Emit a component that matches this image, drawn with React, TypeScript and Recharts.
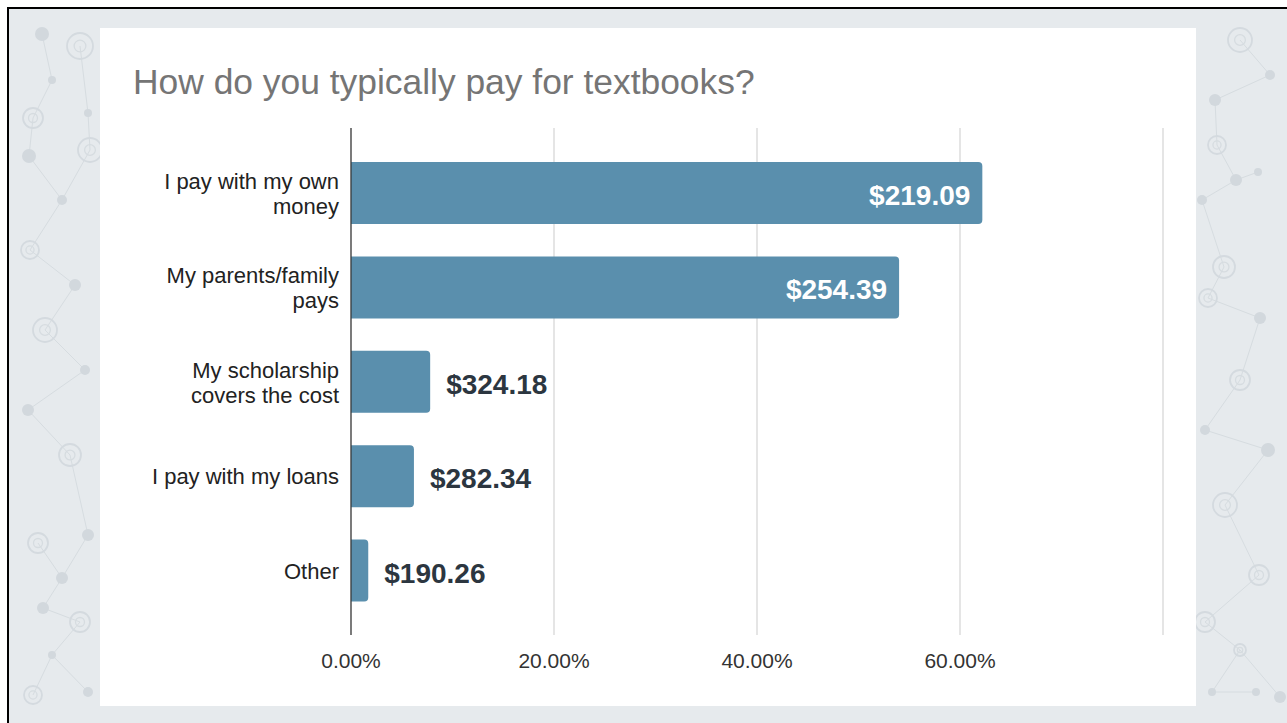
import React from 'react';
import { BarChart, Bar, XAxis, YAxis, CartesianGrid, LabelList } from 'recharts';

// Survey answers: share of respondents (%) and the average textbook spend per group
const categories = [
  'I pay with my own money',
  'My parents/family pays',
  'My scholarship covers the cost',
  'I pay with my loans',
  'Other',
];
const sharePercent = [62.2, 54.0, 7.8, 6.2, 1.7];
const costLabels = ['$219.09', '$254.39', '$324.18', '$282.34', '$190.26'];
const percentTicks = [0, 20, 40, 60, 80];

const data = categories.map((name, i) => ({
  name,
  share: sharePercent[i],
  cost: costLabels[i],
}));

const FONT = '"Liberation Sans", Arial, Helvetica, sans-serif';
const BAR_COLOR = '#5a8fad';

// Greedy word wrap for the category labels
const wrapLabel = (label: string, maxChars: number): string[] => {
  const lines: string[] = [];
  let current = '';
  label.split(' ').forEach((word) => {
    const next = current ? `${current} ${word}` : word;
    if (next.length > maxChars && current) {
      lines.push(current);
      current = word;
    } else {
      current = next;
    }
  });
  if (current) lines.push(current);
  return lines;
};

// Decorative network pattern for the slide background
const nodes: { x: number; y: number; r: number; kind: 'dot' | 'ring' }[] = [
  { x: 42, y: 34, r: 7, kind: 'dot' },
  { x: 80, y: 46, r: 13, kind: 'ring' },
  { x: 52, y: 80, r: 4, kind: 'dot' },
  { x: 33, y: 118, r: 10, kind: 'ring' },
  { x: 88, y: 113, r: 4, kind: 'dot' },
  { x: 29, y: 156, r: 7, kind: 'dot' },
  { x: 90, y: 150, r: 12, kind: 'ring' },
  { x: 62, y: 200, r: 5, kind: 'dot' },
  { x: 30, y: 250, r: 9, kind: 'ring' },
  { x: 75, y: 285, r: 6, kind: 'dot' },
  { x: 45, y: 330, r: 12, kind: 'ring' },
  { x: 85, y: 370, r: 5, kind: 'dot' },
  { x: 28, y: 410, r: 6, kind: 'dot' },
  { x: 70, y: 455, r: 11, kind: 'ring' },
  { x: 38, y: 543, r: 10, kind: 'ring' },
  { x: 88, y: 535, r: 6, kind: 'dot' },
  { x: 62, y: 578, r: 6, kind: 'dot' },
  { x: 43, y: 608, r: 6, kind: 'dot' },
  { x: 80, y: 622, r: 10, kind: 'ring' },
  { x: 52, y: 655, r: 4, kind: 'dot' },
  { x: 33, y: 695, r: 9, kind: 'ring' },
  { x: 88, y: 692, r: 5, kind: 'dot' },
  { x: 1240, y: 40, r: 12, kind: 'ring' },
  { x: 1270, y: 75, r: 5, kind: 'dot' },
  { x: 1215, y: 100, r: 6, kind: 'dot' },
  { x: 1217, y: 145, r: 9, kind: 'ring' },
  { x: 1236, y: 180, r: 6, kind: 'dot' },
  { x: 1258, y: 172, r: 4, kind: 'dot' },
  { x: 1202, y: 200, r: 5, kind: 'dot' },
  { x: 1224, y: 267, r: 11, kind: 'ring' },
  { x: 1208, y: 298, r: 9, kind: 'ring' },
  { x: 1260, y: 318, r: 6, kind: 'dot' },
  { x: 1240, y: 380, r: 10, kind: 'ring' },
  { x: 1205, y: 430, r: 5, kind: 'dot' },
  { x: 1268, y: 450, r: 7, kind: 'dot' },
  { x: 1225, y: 505, r: 12, kind: 'ring' },
  { x: 1259, y: 575, r: 10, kind: 'ring' },
  { x: 1205, y: 622, r: 10, kind: 'ring' },
  { x: 1240, y: 650, r: 6, kind: 'ring' },
  { x: 1280, y: 697, r: 6, kind: 'dot' },
  { x: 1212, y: 692, r: 4, kind: 'dot' },
  { x: 1256, y: 692, r: 4, kind: 'dot' },
];
const links: [number, number][] = [
  [0, 2], [1, 4], [2, 3], [3, 5], [4, 6], [5, 7], [6, 7], [7, 8], [8, 9], [9, 10],
  [10, 11], [11, 12], [12, 13], [13, 15], [14, 16], [15, 16], [16, 17], [17, 18],
  [18, 19], [19, 20], [19, 21], [22, 23], [23, 24], [24, 25], [25, 26], [26, 27],
  [26, 28], [28, 29], [29, 30], [30, 31], [31, 32], [32, 33], [33, 34], [34, 35],
  [35, 36], [36, 37], [37, 38], [38, 39], [38, 40], [40, 41],
];

const Backdrop = () => (
  <svg width={1278} height={714} style={{ position: 'absolute', left: 9, top: 9 }}>
    <g transform="translate(-9,-9)">
      {links.map(([a, b], i) => (
        <line
          key={`l${i}`}
          x1={nodes[a].x}
          y1={nodes[a].y}
          x2={nodes[b].x}
          y2={nodes[b].y}
          stroke="#d6dce0"
          strokeWidth={1}
        />
      ))}
      {nodes.map((n, i) =>
        n.kind === 'dot' ? (
          <circle key={`n${i}`} cx={n.x} cy={n.y} r={n.r} fill="#d2d8dd" />
        ) : (
          <g key={`n${i}`}>
            <circle cx={n.x} cy={n.y} r={n.r} fill="none" stroke="#d4dadf" strokeWidth={1.8} />
            <circle cx={n.x} cy={n.y} r={n.r * 0.45} fill="none" stroke="#d6dce0" strokeWidth={1.3} />
          </g>
        )
      )}
    </g>
  </svg>
);

const CategoryTick = (props: any) => {
  const { x, y, payload } = props;
  const lines = wrapLabel(String(payload.value), 19);
  const lineHeight = 25;
  const firstBaseline = y - ((lines.length - 1) * lineHeight) / 2 + 8;
  return (
    <text
      x={x}
      y={firstBaseline}
      textAnchor="end"
      fontSize={22}
      fontFamily={FONT}
      fill="#222222"
    >
      {lines.map((line, i) => (
        <tspan key={i} x={x} y={firstBaseline + i * lineHeight}>
          {line}
        </tspan>
      ))}
    </text>
  );
};

const CostLabel = (props: any) => {
  const { x, y, width, height, value } = props;
  const inside = width > 200;
  const cy = y + height / 2 + 12;
  return (
    <text
      x={inside ? x + width - 12 : x + width + 16}
      y={cy}
      textAnchor={inside ? 'end' : 'start'}
      fontSize={28}
      fontWeight={700}
      fontFamily={FONT}
      fill={inside ? '#ffffff' : '#2c3640'}
    >
      {value}
    </text>
  );
};

export default function App() {
  return (
    <div
      style={{
        position: 'absolute',
        left: 0,
        top: 0,
        width: 1287,
        height: 723,
        background: '#ffffff',
        overflow: 'hidden',
      }}
    >
      <div
        style={{
          position: 'absolute',
          left: 7,
          top: 7,
          width: 1287,
          height: 723,
          borderLeft: '2px solid #000',
          borderTop: '2px solid #000',
          background: '#e6eaed',
        }}
      />
      <Backdrop />
      <div
        style={{
          position: 'absolute',
          left: 100,
          top: 28,
          width: 1096,
          height: 678,
          background: '#ffffff',
        }}
      >
        <div
          style={{
            position: 'absolute',
            left: 33,
            top: 37,
            fontFamily: FONT,
            fontSize: 35.4,
            lineHeight: '35px',
            color: '#757575',
            whiteSpace: 'nowrap',
          }}
        >
          How do you typically pay for textbooks?
        </div>
        <BarChart
          width={1096}
          height={678}
          data={data}
          layout="vertical"
          margin={{ top: 100, right: 33, bottom: 0, left: 0 }}
        >
          <CartesianGrid horizontal={false} stroke="#d4d4d4" strokeWidth={1.2} />
          <XAxis
            type="number"
            domain={[0, 80]}
            ticks={percentTicks}
            tickFormatter={(v: number) => (v === 80 ? '' : `${v.toFixed(2)}%`)}
            axisLine={false}
            tickLine={false}
            tickSize={0}
            tickMargin={18}
            height={71}
            tick={{ fontSize: 21, fontFamily: FONT, fill: '#333333' }}
          />
          <YAxis
            type="category"
            dataKey="name"
            width={251}
            axisLine={{ stroke: '#333333', strokeWidth: 1.2 }}
            tickLine={false}
            tickSize={0}
            tickMargin={12}
            padding={{ top: 18, bottom: 17 }}
            tick={<CategoryTick />}
            interval={0}
          />
          <Bar
            dataKey="share"
            fill={BAR_COLOR}
            barSize={62}
            radius={[0, 4, 4, 0]}
            isAnimationActive={false}
          >
            <LabelList dataKey="cost" content={<CostLabel />} />
          </Bar>
        </BarChart>
      </div>
    </div>
  );
}
